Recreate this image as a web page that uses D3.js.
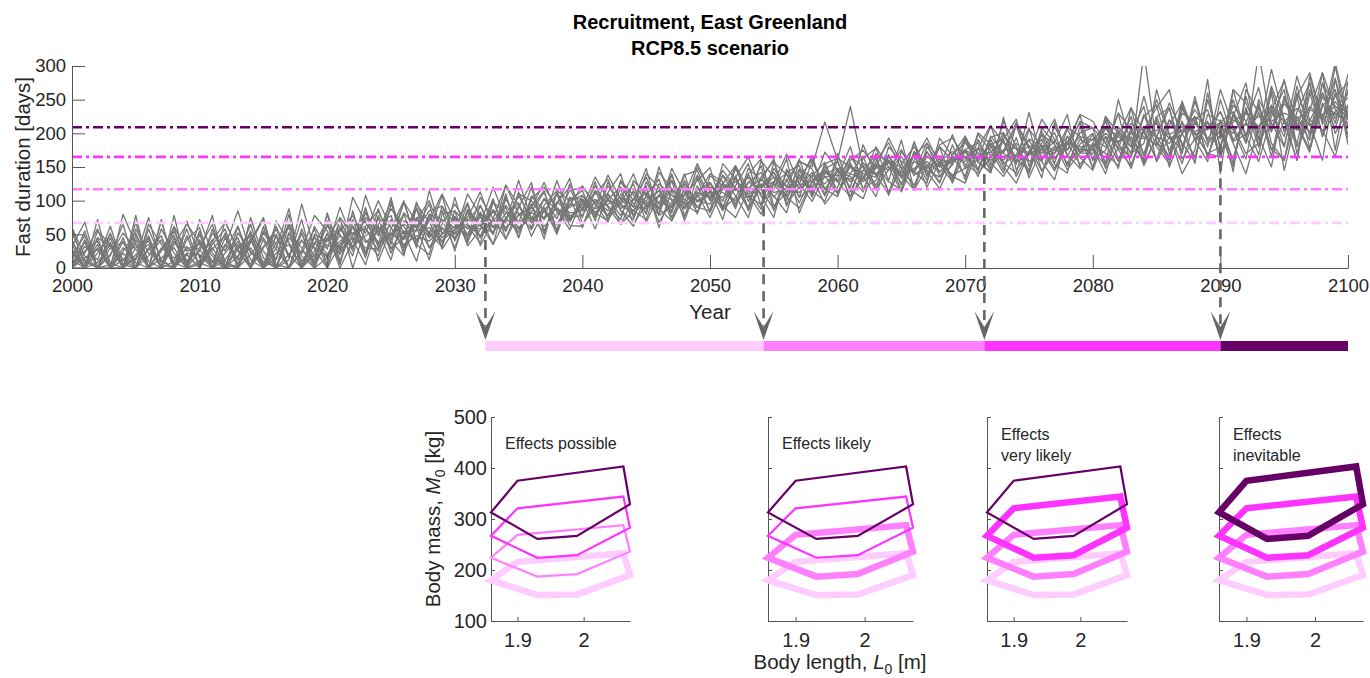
<!DOCTYPE html>
<html>
<head>
<meta charset="utf-8">
<script src="https://cdn.jsdelivr.net/npm/d3@7"></script>
<style>
body { margin: 0; background: #fff; }
svg { font-family: "Liberation Sans", Arial, sans-serif; }
</style>
</head>
<body>
<script>
// simulated fast duration runs, one value per year 2000..2100
const years = d3.range(2000, 2101);
const run01 = [0,42,0,18,65,0,30,0,55,10, 38,0,0,62,12,0,48,20,0,35, 70,5,85,22,60,40,18,90,45,72, 30,83,45,100,55,113,67,90,50,105, 60,115,72,98,125,68,108,82,130,90, 115,72,137,89,125,107,82,145,115,99, 148,106,133,163,113,146,168,120,158,136, 126,178,144,191,136,174,158,131,196,164, 145,195,158,208,170,220,150,200,225,165, 220,155,238,180,260,145,225,190,275,200, 235];
const run02 = [25,0,55,35,0,42,0,72,0,20, 0,58,10,0,40,75,5,0,52,0, 15,72,0,60,25,95,52,10,80,38, 75,37,93,50,107,57,95,43,113,70, 100,58,110,65,85,122,60,115,75,135, 82,127,95,139,107,75,147,105,159,117, 106,156,118,130,166,138,116,173,143,160, 174,136,181,146,194,134,178,201,151,184, 200,148,178,225,155,195,238,162,192,218, 165,228,185,245,175,218,160,260,198,232, 253];
const run03 = [60,18,0,5,45,0,58,12,0,32, 8,0,70,25,0,42,0,65,18,0, 52,0,40,88,10,58,100,35,20,92, 43,95,33,70,90,45,107,85,57,100, 115,70,128,85,62,108,132,75,118,82, 127,92,75,115,152,85,132,97,137,157, 113,140,166,118,146,176,138,153,126,183, 131,191,156,136,168,208,144,178,186,154, 178,140,205,170,228,180,155,242,190,208, 232,185,140,210,240,180,260,215,160,280, 221];
const run04 = [0,0,30,0,0,68,0,28,48,0, 25,78,0,5,55,0,30,88,0,48, 0,35,62,15,78,28,45,72,100,50, 77,50,65,35,73,97,47,85,110,63, 62,100,78,118,65,95,80,138,88,110, 75,119,135,85,122,142,105,89,129,147, 158,116,103,153,128,116,173,138,180,126, 176,144,191,151,126,171,198,154,141,211, 148,210,175,152,205,160,220,185,158,250, 180,250,195,158,225,265,170,235,290,175, 278];
const run05 = [35,0,72,0,22,0,45,0,10,58, 0,28,48,0,75,15,0,52,30,0, 82,25,48,70,35,105,30,75,52,32, 85,33,57,103,43,80,90,115,55,125, 85,122,90,65,102,135,88,70,120,100, 95,137,107,75,135,159,92,139,112,145, 130,166,136,106,168,123,188,136,158,173, 154,141,164,201,161,146,186,221,168,148, 185,170,152,202,240,158,195,175,255,185, 205,162,235,195,150,255,210,175,240,265, 198];
const run06 = [10,55,0,38,0,15,75,5,0,42, 60,0,22,45,0,62,0,12,95,28, 0,62,25,108,55,12,82,60,95,28, 57,75,113,60,93,67,120,55,95,133, 65,90,138,102,85,72,125,108,88,150, 117,85,122,155,92,127,169,125,99,137, 110,153,133,180,150,113,160,193,153,128, 191,171,148,174,216,181,144,171,208,196, 148,225,200,170,185,250,198,155,220,235, 165,225,275,180,232,195,285,220,205,165, 243];
const run07 = [28,0,45,0,80,35,0,58,22,0, 42,10,0,52,25,0,70,38,0,62, 28,90,42,5,65,78,20,98,48,85, 25,87,65,120,73,53,90,127,83,67, 108,82,70,128,100,148,78,92,140,80, 137,122,92,127,142,105,129,159,147,107, 170,113,156,138,110,173,143,126,193,166, 136,201,184,156,141,206,181,148,186,228, 218,185,230,152,205,195,165,248,190,158, 250,190,215,268,185,160,232,275,195,300, 208];
const run08 = [0,32,12,62,5,0,28,48,0,70, 15,42,0,28,0,55,35,0,25,78, 55,30,72,22,88,35,98,40,70,110, 70,43,83,50,123,93,60,103,73,115, 120,95,78,102,140,90,108,130,70,122, 85,155,132,105,119,142,112,125,167,109, 136,180,116,158,186,148,123,166,150,198, 148,161,211,186,158,168,221,191,154,176, 175,152,198,238,165,225,175,218,155,260, 175,265,195,230,202,280,180,218,260,215, 288];
const run09 = [52,10,0,30,38,8,0,70,5,20, 0,35,58,5,45,0,15,68,10,38, 15,55,78,42,18,72,50,88,30,65, 95,65,47,87,55,110,100,73,130,77, 88,135,102,78,115,80,142,118,95,82, 127,99,152,117,87,157,139,105,119,172, 146,120,183,138,168,133,186,143,118,158, 176,186,151,218,181,144,208,186,228,148, 185,218,162,195,158,225,238,170,248,190, 202,150,255,190,270,220,185,265,218,282, 183];
const run10 = [18,48,0,0,25,52,10,0,40,5, 55,0,35,15,65,5,48,0,58,15, 65,20,105,68,38,50,80,30,115,52, 50,110,77,35,103,67,83,113,53,105, 102,78,112,140,75,118,68,98,108,130, 149,87,105,139,162,92,112,147,135,95, 120,166,150,116,180,158,143,186,136,153, 194,146,196,171,211,158,176,144,184,216, 160,175,230,205,152,195,245,200,165,228, 218,205,162,250,215,180,270,195,290,235, 211];
const run11 = [0,22,58,8,0,30,40,0,62,25, 30,65,5,0,38,72,0,45,22,58, 5,72,30,82,52,100,25,58,85,92, 65,47,105,73,43,90,127,50,113,75, 78,115,92,72,130,108,88,148,112,90, 85,125,152,99,132,117,162,82,127,142, 128,106,163,178,130,190,116,180,156,138, 148,198,174,141,214,178,134,216,166,201, 208,185,148,238,202,160,212,245,200,170, 180,242,218,168,265,202,255,178,245,208, 265];
const run12 = [42,0,22,50,12,0,65,35,8,0, 5,52,25,62,0,30,58,15,72,0, 45,8,62,20,75,22,70,60,12,80, 85,63,37,97,83,60,73,103,87,57, 102,75,122,95,80,100,115,85,138,145, 102,145,119,89,159,135,105,132,162,117, 143,136,113,170,156,138,168,130,183,193, 164,146,194,201,154,231,161,181,156,191, 180,208,178,165,225,242,170,200,235,205, 232,188,198,242,165,255,205,275,195,260, 193];
const run13 = [5,38,0,20,52,28,0,0,35,65, 38,8,52,0,20,45,12,80,0,25, 62,50,18,90,30,68,45,95,68,32, 105,40,77,60,73,107,75,53,97,120, 75,128,72,110,90,140,120,70,108,155, 115,88,148,110,80,125,100,158,150,217, 160,240,150,123,160,116,173,153,128,168, 196,158,141,224,146,171,191,156,206,171, 198,155,210,180,255,188,165,230,218,180, 265,210,170,185,235,278,215,175,260,222, 260];
const run14 = [58,5,35,0,30,12,48,0,78,0, 72,22,0,35,5,52,28,0,42,8, 80,10,68,52,100,60,30,72,52,108, 40,85,63,83,67,130,73,85,65,93, 122,95,68,130,108,82,150,100,90,115, 127,89,135,165,117,87,142,152,105,155, 163,150,128,148,193,156,116,150,180,160, 162,178,212,155,168,190,158,210,175,218, 208,155,250,185,160,265,198,140,175,280, 140,265,245,200,295,220,160,285,213,255, 275];
const run15 = [32,68,0,45,0,58,22,10,0,48, 0,40,68,28,52,0,62,18,52,5, 42,75,50,62,85,42,98,68,45,60, 43,70,93,50,110,45,103,120,90,73, 95,110,132,85,72,128,95,140,78,108, 140,128,88,148,130,162,95,120,142,108, 160,100,145,168,108,155,180,145,135,168, 186,158,184,191,221,151,198,184,146,171, 170,222,185,148,205,238,265,180,225,165, 217,143,265,230,177,160,255,290,220,305, 225];
const run16 = [12,0,45,32,0,78,0,25,60,0, 50,0,32,85,22,10,0,52,5,45, 20,48,30,75,48,88,62,35,80,72, 60,97,45,73,123,80,57,93,115,100, 108,82,102,120,95,112,80,130,100,138, 100,138,118,105,95,148,120,162,108,152, 110,160,175,148,158,125,168,185,162,132, 190,157,143,197,177,140,203,163,185,227, 160,225,183,165,320,185,160,237,200,170, 165,230,188,320,208,250,212,172,275,240, 225];
const run17 = [0,15,28,0,40,0,18,42,0,22, 20,0,12,40,0,32,50,0,25,12, 35,22,45,30,28,52,35,48,40,58, 52,62,58,70,68,58,82,75,88,70, 95,82,100,92,85,105,98,90,110,100, 112,105,118,110,122,128,108,125,120,135, 138,132,145,140,150,142,158,148,155,162, 165,170,160,175,178,168,182,175,185,180, 182,195,188,200,192,205,198,210,202,215, 208,220,212,225,218,230,222,235,228,240, 232];
const run18 = [22,0,8,35,0,48,0,15,30,0, 10,30,0,18,42,0,22,35,0,50, 40,58,32,48,62,30,55,42,75,45, 62,50,80,68,55,92,70,85,65,95, 90,102,85,95,112,98,88,118,95,105, 120,112,100,128,118,135,122,112,138,125, 145,128,152,138,160,135,148,158,142,165, 158,178,168,160,185,170,178,162,188,176, 192,180,202,188,210,195,185,215,198,208, 215,200,230,210,235,218,205,240,222,230, 215];
const run19 = [38,12,0,52,0,20,35,0,45,8, 28,0,45,12,30,0,38,60,0,20, 50,28,62,38,55,70,42,65,30,50, 75,58,68,85,60,78,90,72,98,82, 85,98,110,88,102,95,115,92,125,98, 108,125,115,135,110,128,140,118,130,145, 128,150,140,135,158,150,142,172,150,160, 172,162,185,170,158,192,180,170,195,172, 178,200,185,215,195,182,220,200,215,192, 217,232,197,237,204,244,220,202,254,227, 240];
const run20 = [8,25,40,0,12,35,0,30,15,28, 35,18,0,30,48,25,0,20,40,30, 18,40,52,58,35,48,65,55,60,40, 58,72,62,52,82,68,75,62,80,90, 102,88,95,105,92,88,108,102,98,112, 105,118,128,118,132,112,118,135,112,140, 148,140,132,155,145,165,138,150,162,155, 175,165,172,188,165,182,170,188,175,195, 190,210,195,180,205,215,192,205,225,210, 192,217,232,207,242,217,237,212,227,247, 220];
const runs = [run01, run02, run03, run04, run05, run06, run07, run08, run09, run10,
              run11, run12, run13, run14, run15, run16, run17, run18, run19, run20];

// thresholds (days) and year each is crossed
const thresholds = [67, 117, 165, 209];
const crossYears = [2032.4, 2054.2, 2071.5, 2090.0];
const levelColors = ["#ffccff", "#ff80ff", "#ff33ff", "#660066"];

// body size envelopes, vertex lengths shared by all
const bodyLength = [1.86, 1.90, 2.06, 2.07, 1.99, 1.93];
const massPale = [180, 216, 233, 190, 152, 151];
const massLight = [224, 269, 288, 236, 192, 187];
const massMagenta = [267, 321, 344, 283, 229, 224];
const massDark = [313, 375, 403, 329, 267, 261];
const envelopes = [massPale, massLight, massMagenta, massDark];

const panelText = [["Effects possible"], ["Effects likely"], ["Effects", "very likely"], ["Effects", "inevitable"]];
const panelThick = [1, 2, 3, 4]; // how many envelopes are drawn heavy
const xTicksTop = [2000, 2010, 2020, 2030, 2040, 2050, 2060, 2070, 2080, 2090, 2100];
const yTicksTop = [0, 50, 100, 150, 200, 250, 300];
const massTicks = [100, 200, 300, 400, 500];
const lengthTicks = [1.9, 2];

const W = 1370, H = 678;
const textCol = "#262626", axisCol = "#555";

const svg = d3.select("body").append("svg")
    .attr("width", W)
    .attr("height", H);

// ---- top chart ----
const x = d3.scaleLinear().domain([2000, 2100]).range([72, 1348]);
const y = d3.scaleLinear().domain([0, 300]).range([268, 66]);

svg.append("defs").append("clipPath")
    .attr("id", "clipTop")
    .append("rect")
    .attr("x", 72).attr("y", 66)
    .attr("width", 1276).attr("height", 202);

const line = d3.line()
    .x((d, i) => x(years[i]))
    .y(d => y(d));

svg.append("g")
    .attr("clip-path", "url(#clipTop)")
    .selectAll("path")
    .data(runs)
    .enter()
    .append("path")
    .attr("fill", "none")
    .attr("stroke", "#777")
    .attr("stroke-width", 1.3)
    .attr("stroke-linejoin", "round")
    .attr("d", line);

// threshold lines
svg.append("g").selectAll("line")
    .data(thresholds)
    .enter()
    .append("line")
    .attr("x1", x(2000)).attr("x2", x(2100))
    .attr("y1", d => y(d)).attr("y2", d => y(d))
    .attr("stroke", (d, i) => levelColors[i])
    .attr("stroke-width", 2.6)
    .attr("stroke-dasharray", "10,4,3,4");

// axes
const yAxis = svg.append("g")
    .attr("transform", "translate(72,0)")
    .call(d3.axisLeft(y).tickValues(yTicksTop).tickSizeInner(-13).tickSizeOuter(0).tickPadding(6));
const xAxis = svg.append("g")
    .attr("transform", "translate(0,268)")
    .call(d3.axisBottom(x).tickValues(xTicksTop).tickFormat(d3.format("d")).tickSizeInner(-13).tickSizeOuter(0).tickPadding(11));
[yAxis, xAxis].forEach(a => {
    a.attr("font-family", null).attr("font-size", 18.5);
    a.selectAll("path, line").attr("stroke", axisCol);
    a.selectAll("text").attr("fill", textCol);
});

svg.append("text")
    .attr("transform", "translate(30,167) rotate(-90)")
    .attr("text-anchor", "middle")
    .attr("font-size", 20.5)
    .attr("fill", textCol)
    .text("Fast duration [days]");
svg.append("text")
    .attr("x", 710).attr("y", 319)
    .attr("text-anchor", "middle")
    .attr("font-size", 20.5)
    .attr("fill", textCol)
    .text("Year");

svg.append("text")
    .attr("x", 710).attr("y", 29)
    .attr("text-anchor", "middle")
    .attr("font-size", 20)
    .attr("font-weight", "bold")
    .text("Recruitment, East Greenland");
svg.append("text")
    .attr("x", 710).attr("y", 55)
    .attr("text-anchor", "middle")
    .attr("font-size", 20)
    .attr("font-weight", "bold")
    .text("RCP8.5 scenario");

// dashed drops + arrows
const drops = svg.append("g");
crossYears.forEach((yr, i) => {
    drops.append("line")
        .attr("x1", x(yr)).attr("x2", x(yr))
        .attr("y1", y(thresholds[i])).attr("y2", 326)
        .attr("stroke", "#666")
        .attr("stroke-width", 2.6)
        .attr("stroke-dasharray", "10,7");
    drops.append("path")
        .attr("d", `M${x(yr)},340 L${x(yr) - 10},311 L${x(yr)},327 L${x(yr) + 10},311 Z`)
        .attr("fill", "#666");
});

// colored timeline bar
const barEdges = crossYears.concat([2100]);
svg.append("g").selectAll("rect")
    .data(crossYears)
    .enter()
    .append("rect")
    .attr("x", d => x(d))
    .attr("y", 341)
    .attr("width", (d, i) => x(barEdges[i + 1]) - x(d))
    .attr("height", 10)
    .attr("fill", (d, i) => levelColors[i]);

// ---- body size panels ----
const panelLeft = [491, 768, 987, 1219];
const panelWidth = [139, 145, 140, 144];
const my = d3.scaleLinear().domain([100, 500]).range([621, 417]);

panelText.forEach((lines, p) => {
    const mx = d3.scaleLinear().domain([1.86, 2.07]).range([panelLeft[p], panelLeft[p] + panelWidth[p]]);
    const g = svg.append("g");

    const ya = g.append("g")
        .attr("transform", `translate(${panelLeft[p]},0)`)
        .call(d3.axisLeft(my).tickValues(massTicks).tickSizeInner(-4).tickSizeOuter(0).tickPadding(4)
            .tickFormat(p === 0 ? d3.format("d") : () => ""));
    const xa = g.append("g")
        .attr("transform", "translate(0,621)")
        .call(d3.axisBottom(mx).tickValues(lengthTicks).tickSizeInner(-4).tickSizeOuter(0).tickPadding(12)
            .tickFormat(d3.format("")));
    [ya, xa].forEach(a => {
        a.attr("font-family", null).attr("font-size", 20);
        a.selectAll("path, line").attr("stroke", axisCol);
        a.selectAll("text").attr("fill", textCol);
    });

    envelopes.forEach((mass, k) => {
        const pts = bodyLength.map((L, j) => [mx(L), my(mass[j])]);
        g.append("path")
            .attr("d", d3.line()(pts) + "Z")
            .attr("fill", "none")
            .attr("stroke", levelColors[k])
            .attr("stroke-width", k < panelThick[p] ? 6.5 : 2.2)
            .attr("stroke-linejoin", "miter");
    });

    const t = g.append("text")
        .attr("font-size", 16)
        .attr("fill", textCol);
    lines.forEach((s, j) => {
        t.append("tspan")
            .attr("x", panelLeft[p] + 14)
            .attr("y", lines.length === 1 ? 449 : 440 + 21 * j)
            .text(s);
    });
});

// panel labels
const yl = svg.append("text")
    .attr("transform", "translate(440,519) rotate(-90)")
    .attr("text-anchor", "middle")
    .attr("font-size", 20.5)
    .attr("fill", textCol);
yl.append("tspan").text("Body mass, ");
yl.append("tspan").attr("font-style", "italic").text("M");
yl.append("tspan").attr("font-size", 14).attr("dy", 5).text("0");
yl.append("tspan").attr("dy", -5).text(" [kg]");

const xl = svg.append("text")
    .attr("x", 840).attr("y", 669)
    .attr("text-anchor", "middle")
    .attr("font-size", 20.5)
    .attr("fill", textCol);
xl.append("tspan").text("Body length, ");
xl.append("tspan").attr("font-style", "italic").text("L");
xl.append("tspan").attr("font-size", 14).attr("dy", 5).text("0");
xl.append("tspan").attr("dy", -5).text(" [m]");
</script>
</body>
</html>
